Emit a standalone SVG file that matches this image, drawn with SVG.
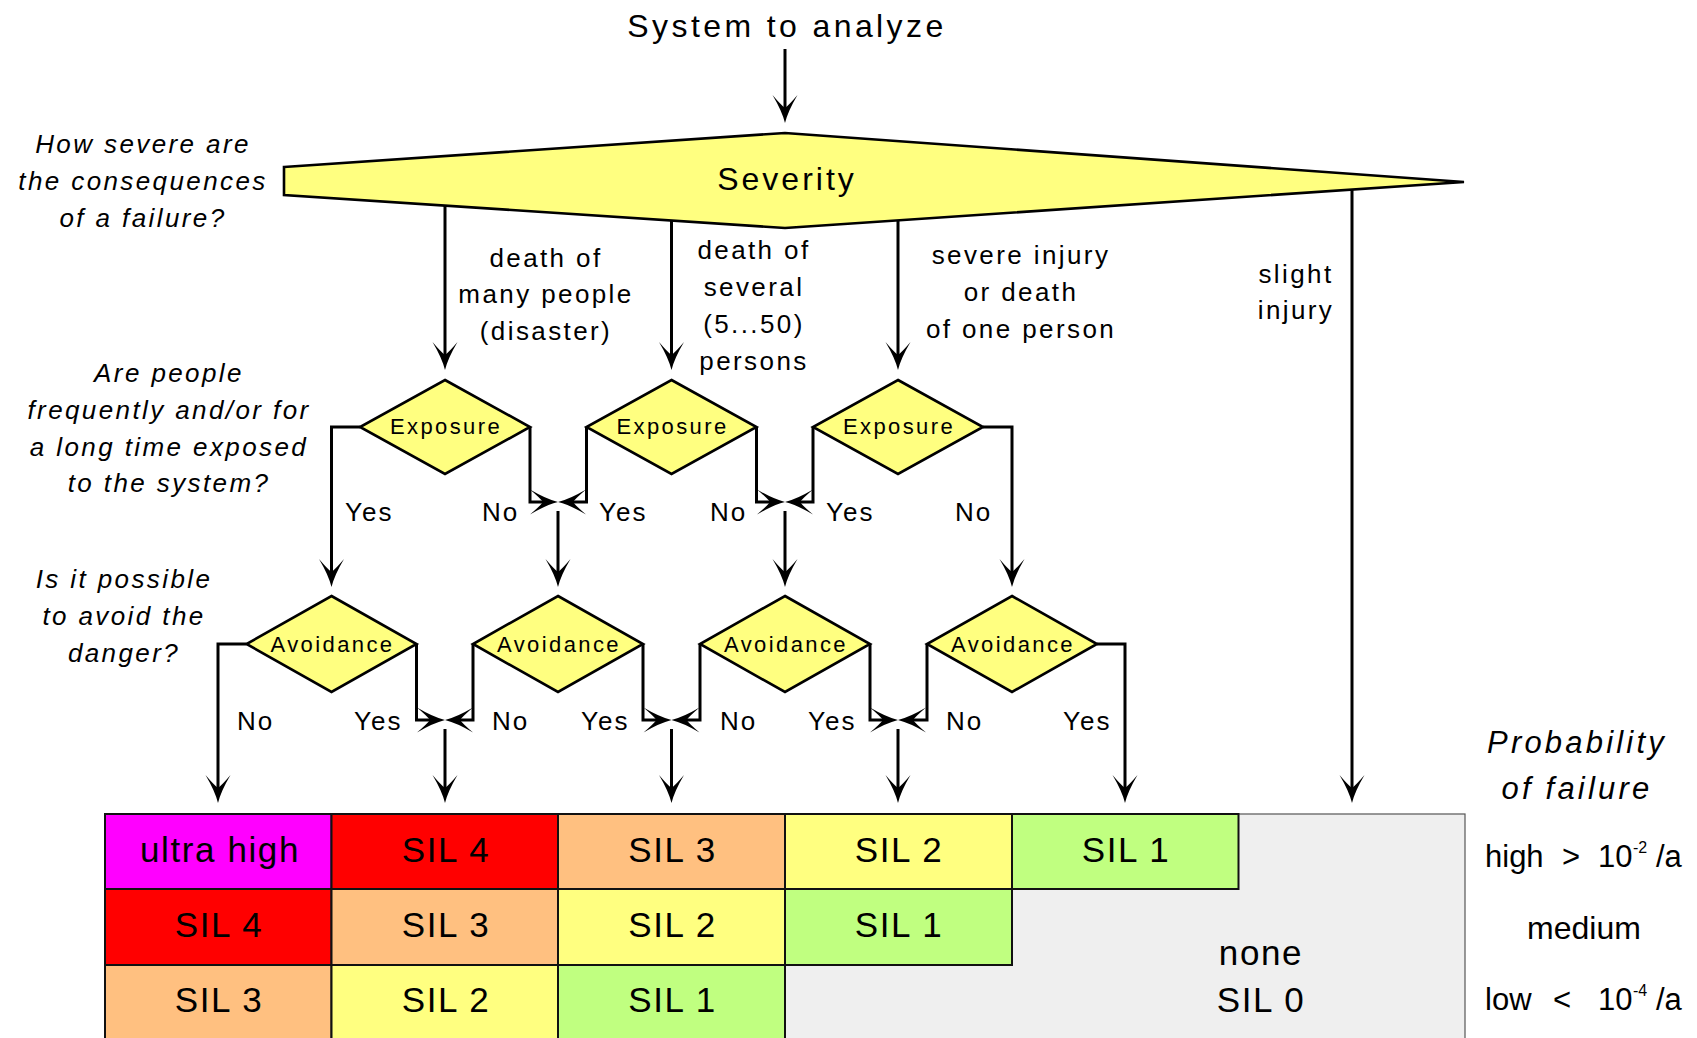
<svg xmlns="http://www.w3.org/2000/svg" width="1697" height="1038" viewBox="0 0 1697 1038">
  <style>
    text { font-family: "Liberation Sans", Arial, sans-serif; fill: #000; }
    .title { font-size: 32px; letter-spacing: 3.4px; text-anchor: middle; }
    .q { font-size: 26px; font-style: italic; letter-spacing: 2.4px; text-anchor: middle; }
    .lbl { font-size: 26px; letter-spacing: 2.4px; text-anchor: middle; }
    .yn { font-size: 26px; letter-spacing: 2px; }
    .dlbl { font-size: 22px; letter-spacing: 2.4px; text-anchor: middle; }
    .cell { font-size: 35px; letter-spacing: 1.6px; text-anchor: middle; }
    .side { font-size: 31px; }
    .sup { font-size: 16px; }
    .prob { font-size: 31px; font-style: italic; letter-spacing: 3.2px; text-anchor: middle; }
    .dec { fill: #ffff80; stroke: #000; stroke-width: 2.6; stroke-linejoin: miter; }
    .edge { fill: none; stroke: #000; stroke-width: 3; marker-end: url(#arr); }
    .c { stroke: #111; stroke-width: 2; }
  </style>
  <defs>
    <marker id="arr" markerUnits="userSpaceOnUse" viewBox="-20 -15 40 30" markerWidth="40" markerHeight="30" refX="0" refY="0" orient="auto" overflow="visible">
      <path d="M10,0 Q-2,-3 -18,-12.5 Q-8,-4 -5,0 Q-8,4 -18,12.5 Q-2,3 10,0 Z" fill="#000"/>
    </marker>
  </defs>

  <rect width="1697" height="1038" fill="#fff"/>

  <!-- connectors -->
  <g id="connectors">
    <path class="edge" d="M785,49 V113"/>
    <path class="edge" d="M445,206 V360"/>
    <path class="edge" d="M671.5,221 V360"/>
    <path class="edge" d="M898,221 V360"/>
    <path class="edge" d="M1352,190 V793"/>

    <path class="edge" d="M360,427 H331.5 V577"/>
    <path class="edge" d="M530,427 V502 H548"/>
    <path class="edge" d="M586.5,427 V502 H568"/>
    <path class="edge" d="M558,511 V577"/>
    <path class="edge" d="M756.5,427 V502 H775"/>
    <path class="edge" d="M813,427 V502 H795"/>
    <path class="edge" d="M785,511 V577"/>
    <path class="edge" d="M983,427 H1012 V577"/>

    <path class="edge" d="M246.5,644 H218 V793"/>
    <path class="edge" d="M416.5,644 V720 H435"/>
    <path class="edge" d="M473,644 V720 H455"/>
    <path class="edge" d="M445,729 V793"/>
    <path class="edge" d="M643,644 V720 H661.5"/>
    <path class="edge" d="M700,644 V720 H681.5"/>
    <path class="edge" d="M671.5,729 V793"/>
    <path class="edge" d="M870,644 V720 H888"/>
    <path class="edge" d="M927,644 V720 H908"/>
    <path class="edge" d="M898,729 V793"/>
    <path class="edge" d="M1097,644 H1125 V793"/>
  </g>

  <!-- start -->
  <g id="start">
    <text class="title" x="787" y="37">System to analyze</text>
  </g>

  <!-- severity decision -->
  <g id="severity">
    <polygon class="dec" stroke-width="3" points="284,167 785,133 1464,182 785,228 284,195"/>
    <text class="title" x="787" y="190" style="letter-spacing:3px">Severity</text>
  </g>

  <!-- exposure decisions -->
  <g id="exposure-1">
    <polygon class="dec" points="445,380 530,427 445,474 360,427"/>
    <text class="dlbl" x="446" y="434">Exposure</text>
  </g>
  <g id="exposure-2">
    <polygon class="dec" points="671.5,380 756.5,427 671.5,474 586.5,427"/>
    <text class="dlbl" x="672.5" y="434">Exposure</text>
  </g>
  <g id="exposure-3">
    <polygon class="dec" points="898,380 983,427 898,474 813,427"/>
    <text class="dlbl" x="899" y="434">Exposure</text>
  </g>

  <!-- avoidance decisions -->
  <g id="avoidance-1">
    <polygon class="dec" points="331.5,596 416.5,644 331.5,692 246.5,644"/>
    <text class="dlbl" x="332.5" y="651.5">Avoidance</text>
  </g>
  <g id="avoidance-2">
    <polygon class="dec" points="558,596 643,644 558,692 473,644"/>
    <text class="dlbl" x="559" y="651.5">Avoidance</text>
  </g>
  <g id="avoidance-3">
    <polygon class="dec" points="785,596 870,644 785,692 700,644"/>
    <text class="dlbl" x="786" y="651.5">Avoidance</text>
  </g>
  <g id="avoidance-4">
    <polygon class="dec" points="1012,596 1097,644 1012,692 927,644"/>
    <text class="dlbl" x="1013" y="651.5">Avoidance</text>
  </g>

  <!-- questions -->
  <g id="questions">
    <text class="q" x="143" y="153">How severe are</text>
    <text class="q" x="143" y="190">the consequences</text>
    <text class="q" x="143" y="227">of a failure?</text>

    <text class="q" x="169" y="382">Are people</text>
    <text class="q" x="169" y="419">frequently and/or for</text>
    <text class="q" x="169" y="456">a long time exposed</text>
    <text class="q" x="169" y="492">to the system?</text>

    <text class="q" x="124" y="588">Is it possible</text>
    <text class="q" x="124" y="625">to avoid the</text>
    <text class="q" x="124" y="662">danger?</text>
  </g>

  <!-- branch labels -->
  <g id="edge-labels">
    <text class="lbl" x="546" y="267">death of</text>
    <text class="lbl" x="546" y="303">many people</text>
    <text class="lbl" x="546" y="340">(disaster)</text>

    <text class="lbl" x="754" y="259">death of</text>
    <text class="lbl" x="754" y="296">several</text>
    <text class="lbl" x="754" y="333">(5...50)</text>
    <text class="lbl" x="754" y="370">persons</text>

    <text class="lbl" x="1021" y="264">severe injury</text>
    <text class="lbl" x="1021" y="301">or death</text>
    <text class="lbl" x="1021" y="338">of one person</text>

    <text class="lbl" x="1296" y="283">slight</text>
    <text class="lbl" x="1296" y="319">injury</text>

    <text class="yn" x="345" y="521">Yes</text>
    <text class="yn" x="482" y="521">No</text>
    <text class="yn" x="599" y="521">Yes</text>
    <text class="yn" x="710" y="521">No</text>
    <text class="yn" x="826" y="521">Yes</text>
    <text class="yn" x="955" y="521">No</text>

    <text class="yn" x="237" y="730">No</text>
    <text class="yn" x="354" y="730">Yes</text>
    <text class="yn" x="492" y="730">No</text>
    <text class="yn" x="581" y="730">Yes</text>
    <text class="yn" x="720" y="730">No</text>
    <text class="yn" x="808" y="730">Yes</text>
    <text class="yn" x="946" y="730">No</text>
    <text class="yn" x="1063" y="730">Yes</text>
  </g>

  <!-- SIL result table -->
  <g id="sil-table">
    <rect x="785" y="814" width="680" height="235" fill="#efefef" stroke="#555" stroke-width="1.2"/>

    <rect class="c" x="105" y="814" width="226.5" height="75" fill="#ff00ff"/>
    <rect class="c" x="331.5" y="814" width="226.5" height="75" fill="#ff0000"/>
    <rect class="c" x="558" y="814" width="227" height="75" fill="#ffc080"/>
    <rect class="c" x="785" y="814" width="227" height="75" fill="#ffff80"/>
    <rect class="c" x="1012" y="814" width="226.5" height="75" fill="#c0ff80"/>

    <rect class="c" x="105" y="889" width="226.5" height="76" fill="#ff0000"/>
    <rect class="c" x="331.5" y="889" width="226.5" height="76" fill="#ffc080"/>
    <rect class="c" x="558" y="889" width="227" height="76" fill="#ffff80"/>
    <rect class="c" x="785" y="889" width="227" height="76" fill="#c0ff80"/>

    <rect class="c" x="105" y="965" width="226.5" height="84" fill="#ffc080"/>
    <rect class="c" x="331.5" y="965" width="226.5" height="84" fill="#ffff80"/>
    <rect class="c" x="558" y="965" width="227" height="84" fill="#c0ff80"/>

    <text class="cell" x="220" y="862">ultra high</text>
    <text class="cell" x="446" y="862">SIL 4</text>
    <text class="cell" x="672.5" y="862">SIL 3</text>
    <text class="cell" x="899" y="862">SIL 2</text>
    <text class="cell" x="1126" y="862">SIL 1</text>

    <text class="cell" x="219" y="937">SIL 4</text>
    <text class="cell" x="446" y="937">SIL 3</text>
    <text class="cell" x="672.5" y="937">SIL 2</text>
    <text class="cell" x="899" y="937">SIL 1</text>

    <text class="cell" x="219" y="1012">SIL 3</text>
    <text class="cell" x="446" y="1012">SIL 2</text>
    <text class="cell" x="672.5" y="1012">SIL 1</text>

    <text class="cell" x="1261" y="965">none</text>
    <text class="cell" x="1261" y="1012">SIL 0</text>
  </g>

  <!-- probability of failure scale -->
  <g id="probability">
    <text class="prob" x="1577" y="753">Probability</text>
    <text class="prob" x="1577" y="799">of failure</text>

    <text class="side" x="1485" y="867">high</text>
    <text class="side" x="1562" y="867">&gt;</text>
    <text class="side" x="1598" y="867">10</text>
    <text class="sup" x="1633" y="853">-2</text>
    <text class="side" x="1656" y="867">/a</text>

    <text class="side" x="1584" y="939" text-anchor="middle" style="font-size:32px">medium</text>

    <text class="side" x="1485" y="1010">low</text>
    <text class="side" x="1553" y="1010">&lt;</text>
    <text class="side" x="1598" y="1010">10</text>
    <text class="sup" x="1633" y="996">-4</text>
    <text class="side" x="1656" y="1010">/a</text>
  </g>
</svg>
